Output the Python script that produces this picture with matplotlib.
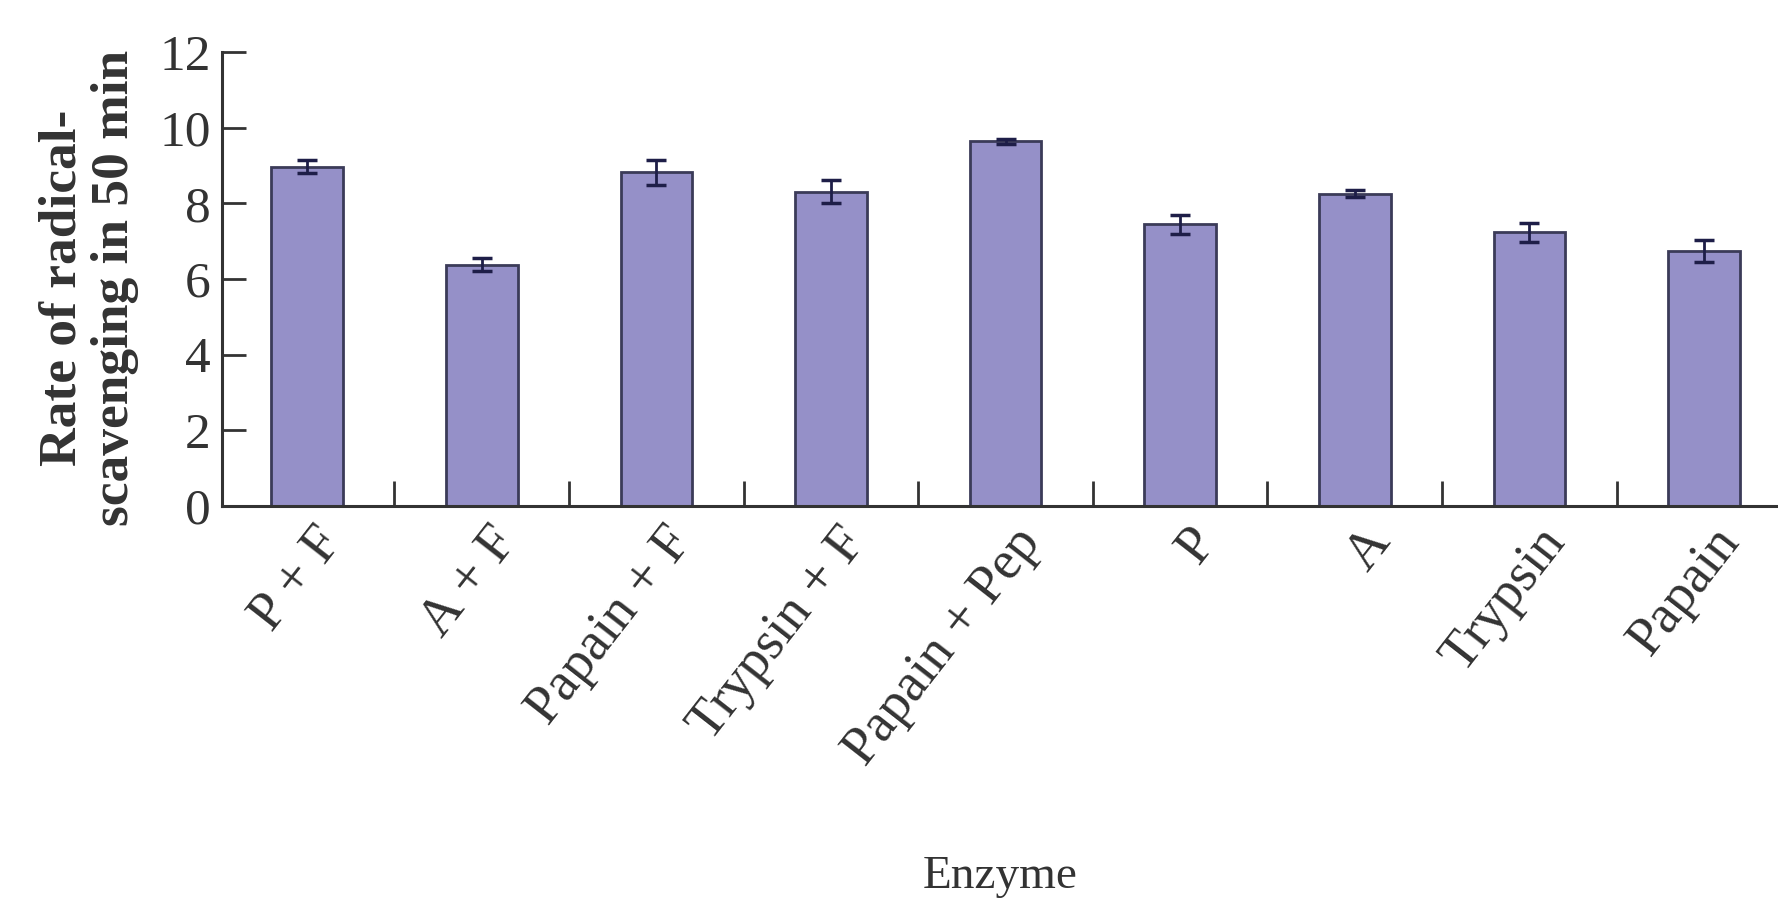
# Enzyme comparison: radical scavenging rate after 50 min
import numpy as np
import matplotlib.pyplot as plt
import matplotlib.transforms as mtransforms
from matplotlib.ticker import FixedLocator

plt.rcParams['font.family'] = ['Liberation Serif', 'DejaVu Serif']

enzimas = ["P + F", "A + F", "Papain + F", "Trypsin + F", "Papain + Pep",
           "P", "A", "Trypsin", "Papain"]
valores = [8.97, 6.38, 8.82, 8.31, 9.64, 7.45, 8.25, 7.24, 6.74]
errores = [0.17, 0.18, 0.33, 0.30, 0.07, 0.25, 0.09, 0.25, 0.30]
y_ticks = [0, 2, 4, 6, 8, 10, 12]

fig = plt.figure(figsize=(17.78, 9.16), dpi=100)
ax = fig.add_axes([0.1247, 0.4476, 0.8753, 0.4956])

x = np.arange(len(enzimas))
ax.bar(x, valores, width=0.41, color="#9590c8", edgecolor="#3b3b58",
       linewidth=2.0, zorder=2)
ax.errorbar(x, valores, yerr=errores, fmt="none", ecolor="#1e1e48",
            elinewidth=2.0, capsize=7, capthick=2.5, zorder=3)

ax.set_xlim(-0.489, len(enzimas) - 0.576)
ax.set_ylim(0, 12)

# ejes: solo izquierdo e inferior
for lado in ["top", "right"]:
    ax.spines[lado].set_visible(False)
for lado in ["left", "bottom"]:
    ax.spines[lado].set_linewidth(2.2)
    ax.spines[lado].set_color("#333333")
ax.spines["left"].set_bounds(0, 12)

ax.set_yticks(y_ticks)
ax.tick_params(axis="y", direction="in", length=17, width=2.0,
               labelsize=37, pad=8, colors="#333333")
ax.set_xticks(x)
ax.set_xticklabels(enzimas, rotation=52, ha="right", va="center",
                   rotation_mode="anchor", fontsize=39, color="#333333")
ax.tick_params(axis="x", which="major", length=0, pad=20)
ax.xaxis.set_minor_locator(FixedLocator(x[:-1] + 0.5))
ax.tick_params(axis="x", which="minor", direction="in", length=18,
               width=2.0, color="#333333")

# desplazar etiquetas un poco a la derecha
desplazamiento = mtransforms.ScaledTranslation(0.26, 0, fig.dpi_scale_trans)
for etiqueta in ax.get_xticklabels():
    etiqueta.set_transform(etiqueta.get_transform() + desplazamiento)

ax.set_ylabel("Rate of radical-\nscavenging in 50 min", fontsize=38.5,
              fontweight="bold", color="#333333", linespacing=1.12)
ax.yaxis.set_label_coords(-0.053, 0.48)
ax.set_xlabel("Enzyme", fontsize=34, color="#333333")
ax.xaxis.set_label_coords(0.5, -0.77)

fig.savefig("out.png", dpi=100)
